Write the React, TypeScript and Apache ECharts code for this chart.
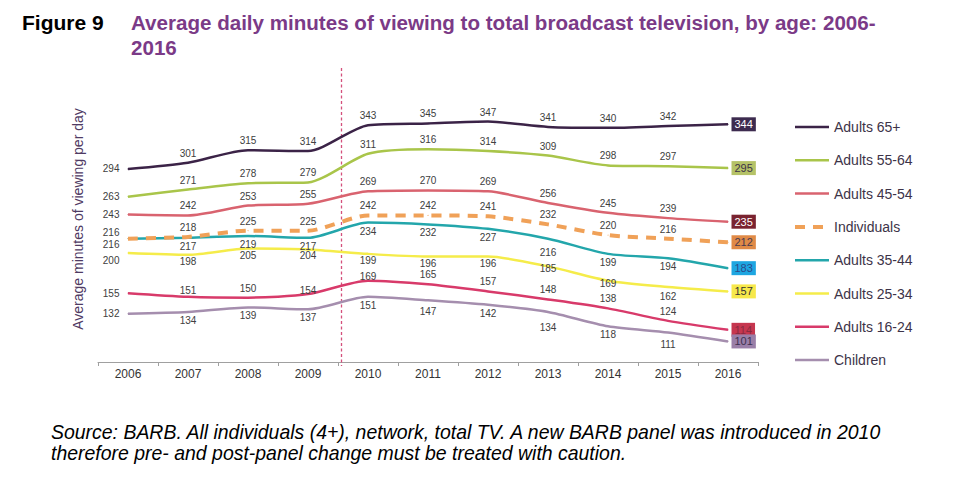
import React, { useEffect, useRef } from "react";
import * as echarts from "echarts";

const years = ["2006", "2007", "2008", "2009", "2010", "2011", "2012", "2013", "2014", "2015", "2016"];

const adults65 = [294, 301, 315, 314, 343, 345, 347, 341, 340, 342, 344];
const adults55 = [263, 271, 278, 279, 311, 316, 314, 309, 298, 297, 295];
const adults45 = [243, 242, 253, 255, 269, 270, 269, 256, 245, 239, 235];
const individuals = [216, 218, 225, 225, 242, 242, 241, 232, 220, 216, 212];
const adults35 = [216, 217, 219, 217, 234, 232, 227, 216, 199, 194, 183];
const adults25 = [200, 198, 205, 204, 199, 196, 196, 185, 169, 162, 157];
const adults16 = [155, 151, 150, 154, 169, 165, 157, 148, 138, 124, 114];
const children = [132, 134, 139, 137, 151, 147, 142, 134, 118, 111, 101];

// New BARB panel introduced between 2009 and 2010 (category index position)
const panelChangeAt = 3.55;

const Y_MIN = 78;
const Y_MAX = 407;

const FONT = "'Liberation Sans', Arial, Helvetica, sans-serif";

type S = {
  name: string;
  data: number[];
  color: string;
  pos: "top" | "bottom";
  dist: number;
  firstOffset: [number, number];
  tweaks?: Record<number, [number, number]>;
  boxBg: string;
  boxText: string;
  dashed?: boolean;
};

const seriesDefs: S[] = [
  { name: "Adults 65+", data: adults65, color: "#3b2347", pos: "top", dist: 4, firstOffset: [0, 0], boxBg: "#3d2b4f", boxText: "#ffffff" },
  { name: "Adults 55-64", data: adults55, color: "#a9c54a", pos: "top", dist: 4, firstOffset: [0, 0], boxBg: "#b5c267", boxText: "#3d3348" },
  { name: "Adults 45-54", data: adults45, color: "#d9636f", pos: "top", dist: 4, firstOffset: [0, 0], boxBg: "#7a2330", boxText: "#ffffff" },
  { name: "Individuals", data: individuals, color: "#f0a158", pos: "top", dist: 4, firstOffset: [0, -6], boxBg: "#e08a47", boxText: "#4a3a50", dashed: true },
  { name: "Adults 35-44", data: adults35, color: "#23a6ab", pos: "bottom", dist: 3, firstOffset: [0, 6], tweaks: { 7: [0, 5] }, boxBg: "#1ea6e1", boxText: "#2c4a8a" },
  { name: "Adults 25-34", data: adults25, color: "#f5ec4a", pos: "bottom", dist: 1, firstOffset: [0, 8], tweaks: { 7: [0, -4], 8: [0, -4], 9: [0, 3] }, boxBg: "#f7e84b", boxText: "#333333" },
  { name: "Adults 16-24", data: adults16, color: "#d83a6a", pos: "top", dist: 4, firstOffset: [0, 0], tweaks: { 1: [0, 3], 3: [0, 6], 4: [0, 5] }, boxBg: "#c6364f", boxText: "#8a2a40" },
  { name: "Children", data: children, color: "#a58eae", pos: "bottom", dist: 3, firstOffset: [0, 0], tweaks: { 7: [0, 7], 5: [0, 3], 9: [0, 3] }, boxBg: "#9a7fa8", boxText: "#3d3050" },
];

export default function App() {
  const ref = useRef<HTMLDivElement>(null);

  useEffect(() => {
    if (!ref.current) return;
    document.body.style.margin = "0";
    const chart = echarts.init(ref.current, null, { renderer: "svg" });

    const last = years.length - 1;
    const series: any[] = seriesDefs.map((s) => ({
      name: s.name,
      type: "line",
      xAxisIndex: 0,
      yAxisIndex: 0,
      smooth: 0.25,
      symbol: "circle",
      symbolSize: 1,
      showSymbol: true,
      itemStyle: { color: s.color },
      lineStyle: {
        color: s.color,
        width: s.dashed ? 4 : 2.5,
        type: s.dashed ? [10, 8] : "solid",
        cap: "butt",
      },
      z: s.dashed ? 3 : 2,
      data: s.data.map((v, i) => {
        let label: any;
        if (i === 0) {
          label = { position: "left", distance: 8, offset: s.firstOffset };
        } else if (i === last) {
          label = {
            position: "right",
            distance: 3,
            backgroundColor: s.boxBg,
            color: s.boxText,
            padding: [2, 3, 1, 3],
            fontSize: 11,
          };
        } else {
          label = { position: s.pos, distance: s.dist };
          if (s.tweaks && s.tweaks[i]) label.offset = s.tweaks[i];
        }
        return { value: v, label };
      }),
      label: {
        show: true,
        fontSize: 10,
        color: "#404040",
        fontFamily: FONT,
      },
    }));

    const graphics: any[] = [
      {
        type: "text",
        x: 22,
        y: 22,
        style: { text: "Figure 9", font: `bold 21px ${FONT}`, fill: "#000000", verticalAlign: "middle" },
      },
      {
        type: "text",
        x: 131,
        y: 22,
        scaleX: 0.98,
        style: {
          text: "Average daily minutes of viewing to total broadcast television, by age: 2006-",
          font: `bold 21px ${FONT}`,
          fill: "#7b3a87",
          verticalAlign: "middle",
        },
      },
      {
        type: "text",
        x: 131,
        y: 47,
        scaleX: 0.98,
        style: { text: "2016", font: `bold 21px ${FONT}`, fill: "#7b3a87", verticalAlign: "middle" },
      },
      {
        type: "text",
        x: 78,
        y: 219,
        rotation: Math.PI / 2,
        style: {
          text: "Average minutes of viewing per day",
          font: `14px ${FONT}`,
          fill: "#4f3a63",
          align: "center",
          verticalAlign: "middle",
        },
      },
      {
        type: "text",
        x: 51,
        y: 432,
        scaleX: 0.973,
        style: {
          text: "Source: BARB. All individuals (4+), network, total TV. A new BARB panel was introduced in 2010",
          font: `italic 20px ${FONT}`,
          fill: "#000000",
          verticalAlign: "middle",
        },
      },
      {
        type: "text",
        x: 51,
        y: 453,
        scaleX: 0.973,
        style: {
          text: "therefore pre- and post-panel change must be treated with caution.",
          font: `italic 20px ${FONT}`,
          fill: "#000000",
          verticalAlign: "middle",
        },
      },
    ];

    chart.setOption({
      animation: false,
      backgroundColor: "#ffffff",
      grid: { left: 98, right: 202, top: 68, bottom: 120 },
      xAxis: [
        {
          type: "category",
          data: years,
          boundaryGap: true,
          axisLine: { lineStyle: { color: "#a0a0a0", width: 1 } },
          axisTick: { show: true, length: 4, lineStyle: { color: "#a0a0a0" } },
          axisLabel: { fontSize: 12, color: "#333333", fontFamily: FONT, margin: 6 },
          splitLine: { show: false },
        },
        {
          type: "value",
          min: -0.5,
          max: 10.5,
          show: false,
        },
      ],
      yAxis: {
        type: "value",
        min: Y_MIN,
        max: Y_MAX,
        show: false,
        splitLine: { show: false },
      },
      legend: {
        orient: "vertical",
        left: 788,
        top: 115,
        itemWidth: 34,
        itemHeight: 14,
        itemGap: 19.3,
        itemStyle: { opacity: 0 },
        lineStyle: { width: 2.5 },
        textStyle: { fontSize: 14, color: "#3d3348", fontFamily: FONT },
        data: seriesDefs.map((s) =>
          s.dashed ? { name: s.name, lineStyle: { width: 4 } } : { name: s.name }
        ),
        selectedMode: false,
      },
      graphic: graphics,
      series,
    });

    // Dashed vertical marker for the panel change, placed through the chart's own scales
    const px = chart.convertToPixel({ xAxisIndex: 1 }, panelChangeAt) as number;
    const yTop = chart.convertToPixel({ yAxisIndex: 0 }, Y_MAX) as number;
    const yBottom = (chart.convertToPixel({ yAxisIndex: 0 }, Y_MIN) as number) + 4;
    const xLine = Math.round(px) + 0.5;
    chart.setOption({
      graphic: [
        ...graphics,
        {
          type: "line",
          silent: true,
          z: 1,
          shape: { x1: xLine, y1: yTop, x2: xLine, y2: yBottom },
          style: { stroke: "#d4507c", lineWidth: 1.3, lineDash: [3, 2.5] },
        },
      ],
    });

    return () => chart.dispose();
  }, []);

  return (
    <div
      ref={ref}
      style={{ position: "absolute", left: 0, top: 0, width: 960, height: 482, background: "#fff" }}
    />
  );
}
